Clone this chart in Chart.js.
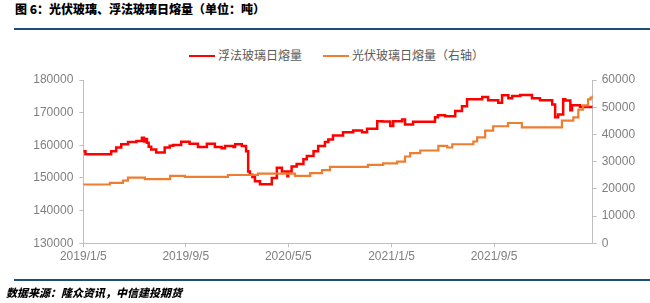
<!DOCTYPE html>
<html>
<head>
<meta charset="utf-8">
<script src="https://cdn.jsdelivr.net/npm/chart.js@4/dist/chart.umd.min.js"></script>
<style>
body{margin:0;width:650px;height:303px;position:relative;background:#fff;overflow:hidden;font-family:"Noto Sans CJK SC",sans-serif}
#title{position:absolute;left:15px;top:0px;font-size:12px;font-weight:900;color:#000;line-height:17px}
.rule{position:absolute;left:14px;width:636px;height:2px;background:#1b4f7c}
.legend{position:absolute;top:47px;font-size:12px;color:#595959;line-height:16px;white-space:nowrap}
.legend i{display:inline-block;width:26px;height:2px;vertical-align:middle;margin-right:3px;position:relative;top:-1px}
#source{position:absolute;left:6px;top:285px;font-size:11px;font-weight:900;font-style:italic;color:#000;line-height:15px}
canvas{position:absolute;left:0;top:0}
</style>
</head>
<body>

<div id="title">图 6：光伏玻璃、浮法玻璃日熔量（单位：吨）</div>
<div class="rule" style="top:28px"></div>

<div class="legend" style="left:189px"><i style="background:#ff0000"></i>浮法玻璃日熔量</div>
<div class="legend" style="left:323px"><i style="background:#ed7d31"></i>光伏玻璃日熔量（右轴）</div>

<canvas id="glassChart" width="650" height="303"></canvas>

<div class="rule" style="top:279px"></div>
<div id="source">数据来源：隆众资讯，中信建投期货</div>

<script>
// ==========================
// Data
// ==========================

const tickLabels=["2019/1/5","2019/9/5","2020/5/5","2021/1/5","2021/9/5"];
const axisStart="2019-01-05";
const axisEnd="2022-04-27";

// float glass daily output (left axis), value changes
const floatDates=[
"2019-01-05","2019-01-10","2019-03-12","2019-03-24","2019-04-05","2019-04-21","2019-05-11","2019-05-24",
"2019-05-29","2019-06-02","2019-06-05","2019-06-09","2019-06-15","2019-06-27","2019-07-17","2019-07-29",
"2019-08-06","2019-08-25","2019-09-14","2019-10-04","2019-10-25","2019-11-13","2019-11-29","2019-12-07",
"2019-12-27","2019-12-31","2020-01-16","2020-01-26","2020-01-31","2020-02-04","2020-02-10","2020-02-16",
"2020-02-28","2020-03-27","2020-04-08","2020-04-20","2020-05-03","2020-05-05","2020-05-13","2020-05-25",
"2020-06-10","2020-06-18","2020-07-04","2020-07-15","2020-07-31","2020-08-08","2020-08-19","2020-09-12",
"2020-10-06","2020-10-27","2020-11-08","2020-12-02","2020-12-14","2021-01-02","2021-01-09","2021-01-30",
"2021-02-06","2021-02-25","2021-04-18","2021-04-25","2021-05-12","2021-06-05","2021-06-21","2021-07-03",
"2021-08-08","2021-08-22","2021-09-15","2021-09-24","2021-10-09","2021-10-18","2021-11-06","2021-12-04",
"2021-12-23","2022-01-21","2022-01-28","2022-02-04","2022-02-16","2022-02-21","2022-03-05","2022-03-09",
"2022-03-28","2022-04-27"
];
const floatValues=[
158200,157300,158200,159300,160300,161000,161300,162300,
161200,161900,160800,159600,158700,157800,159300,159900,
160100,161100,160500,159500,160500,159500,159100,159800,
159500,160300,159800,158200,152000,151000,150300,149000,
148100,150000,153100,152000,150500,152000,153500,154300,
155700,156700,158200,159800,161000,161800,163000,164000,
164500,164000,165100,167400,167300,165900,167400,167900,
166400,167200,168600,169200,168900,170500,172000,174100,
174800,173800,173000,175300,174400,175100,175400,174400,
173800,172500,168600,169400,174100,173700,170700,172300,
171700,171700
];

// PV glass daily output (right axis), value changes
const pvDates=[
"2019-01-05","2019-03-09","2019-04-09","2019-04-21","2019-05-31","2019-07-30","2019-09-03","2019-12-14",
"2020-02-23","2020-05-21","2020-06-26","2020-07-24","2020-08-12","2020-11-10","2020-12-16","2021-01-18",
"2021-02-06","2021-02-18","2021-03-14","2021-04-26","2021-05-17","2021-05-29","2021-07-18","2021-07-27",
"2021-08-15","2021-09-03","2021-10-08","2021-11-10","2022-02-13","2022-03-12","2022-03-24","2022-04-04",
"2022-04-16","2022-04-22","2022-04-27"
];
const pvValues=[
21600,22200,23000,24100,23600,24800,24400,25100,
25600,24800,25800,26900,28100,28800,29400,30000,
31900,33100,34100,35800,35200,36400,37400,38900,
41400,43000,44200,42600,45100,46300,49100,50700,
52900,53500,54300
];

// ==========================
// Helpers
// ==========================

function toDay(s){
const p=s.split(/[-\/]/).map(Number);
return Date.UTC(p[0],p[1]-1,p[2])/86400000;
}

function pairs(dates,values){
return dates.map((d,i)=>({x:toDay(d),y:values[i]}));
}

const tickFont={family:"Liberation Sans",size:12};
const tickColor="#7f7f7f";
const axisColor="#bfbfbf";
const plainNumber=(v)=>String(v);

// ==========================
// Chart
// ==========================

const ctx=document.getElementById("glassChart");

new Chart(ctx,{

type:"line",

data:{
datasets:[
{
label:"浮法玻璃日熔量",
data:pairs(floatDates,floatValues),
borderColor:"#ff0000",
borderWidth:2.5,
pointRadius:0,
stepped:true,
yAxisID:"y",
order:1
},
{
label:"光伏玻璃日熔量（右轴）",
data:pairs(pvDates,pvValues),
borderColor:"#ed7d31",
borderWidth:2.2,
pointRadius:0,
stepped:true,
yAxisID:"y2",
order:0
}
]
},

options:{
responsive:false,
animation:false,
layout:{padding:{top:80,left:0,right:0,bottom:0}},
plugins:{legend:{display:false},tooltip:{enabled:false}},
scales:{
x:{
type:"linear",
min:toDay(axisStart),
max:toDay(axisEnd),
afterBuildTicks:(scale)=>{
scale.ticks=tickLabels.map(t=>({value:toDay(t)}));
},
afterFit:(scale)=>{scale.height=59.7;},
ticks:{
autoSkip:false,
maxRotation:0,
padding:2,
font:tickFont,
color:tickColor,
callback:(v)=>{
const i=tickLabels.findIndex(t=>toDay(t)===v);
return i>=0?tickLabels[i]:"";
}
},
grid:{drawOnChartArea:false,drawTicks:true,tickLength:4,color:axisColor},
border:{color:axisColor}
},
y:{
position:"left",
min:130000,
max:180000,
afterFit:(scale)=>{scale.width=83.3;},
ticks:{stepSize:10000,padding:6,font:tickFont,color:tickColor,callback:plainNumber},
grid:{drawOnChartArea:false,drawTicks:true,tickLength:4,color:axisColor},
border:{color:axisColor}
},
y2:{
position:"right",
min:0,
max:60000,
afterFit:(scale)=>{scale.width=57.3;},
ticks:{stepSize:10000,padding:5,font:tickFont,color:tickColor,callback:plainNumber},
grid:{drawOnChartArea:false,drawTicks:true,tickLength:4,color:axisColor},
border:{color:axisColor}
}
}
}

});
</script>
</body>
</html>
